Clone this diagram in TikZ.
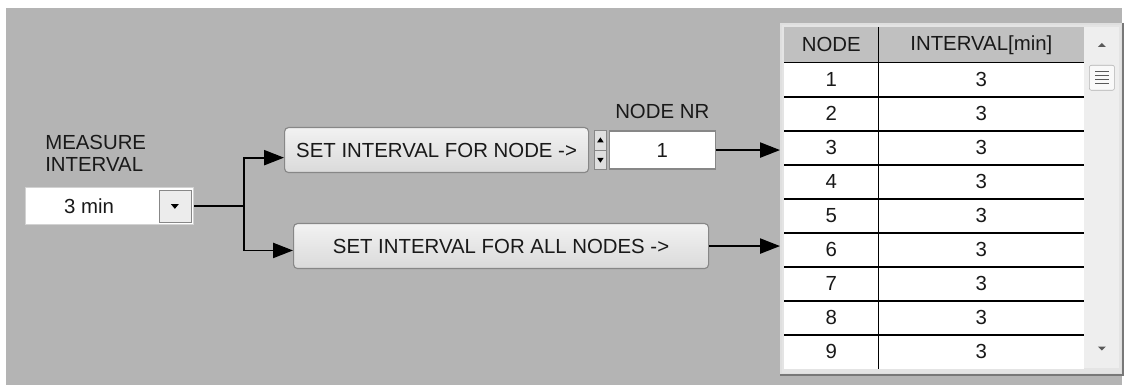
\documentclass[tikz,border=0pt]{standalone}
\usepackage{fontspec}
\setmainfont{Liberation Sans}
\usetikzlibrary{calc}
\usetikzlibrary{positioning}
\usetikzlibrary{arrows.meta}

\definecolor{panelgray}{RGB}{180,180,180}
\definecolor{btntop}{RGB}{242,242,242}
\definecolor{btnbottom}{RGB}{218,218,218}
\definecolor{btnedge}{RGB}{135,135,135}
\definecolor{headgray}{RGB}{192,192,192}
\definecolor{scrollgray}{RGB}{238,238,238}
\definecolor{framegray}{RGB}{228,228,228}
\definecolor{frameshade}{RGB}{120,120,120}
\definecolor{textdark}{RGB}{25,25,25}

\begin{document}
\begin{tikzpicture}[
		font=\fontsize{14.5}{16}\selectfont,
		every node/.append style={text=textdark},
		button/.style={
			draw=btnedge,
			line width=0.8pt,
			rounded corners=0.1cm,
			top color=btntop,
			bottom color=btnbottom,
			minimum height=1.125cm,
			inner sep=0pt},
		field/.style={
			draw=btnedge,
			line width=0.8pt,
			fill=white,
			inner sep=0pt},
		label/.style={
			inner sep=0pt},
		cell/.style={
			fill=white,
			minimum height=0.85cm,
			inner sep=0pt},
		head/.style={
			fill=headgray,
			minimum height=0.875cm,
			inner sep=0pt},
		gridline/.style={
			draw=black,
			line width=1pt},
		wire/.style={
			line width=1.2pt,
			-{Triangle[length=0.5cm,width=0.38cm]}},
		]

		%Panel
		\useasboundingbox (0,0) rectangle (28.325,-9.625);
		\fill[panelgray] (0.15,-0.2) rectangle (28.05,-9.625);

		%Measure interval
		\node (combo)[field, draw=gray!35, minimum width=4.2cm, minimum height=0.925cm, anchor=north west] at (0.625,-4.675) {};
		\node (combotxt) at ($(combo.west)+(1.6cm,0)$) {3 min};
		\node (combobtn)[draw=btnedge, fill=gray!15, minimum size=0.8cm, inner sep=0pt, left=0.075cm of combo.east] {};
		\fill[black] ($(combobtn.center)+(-0.1,0.05)$) -- ++(0.2,0) -- ++(-0.1,-0.12) -- cycle;
		\node (mlabel)[label, align=left, anchor=south west] at ($(combo.north west)+(0.5cm,0.375cm)$) {MEASURE\\INTERVAL};
		\coordinate (split) at ($(combo.east)+(1.25cm,0)$);

		%Buttons
		\node (setnode)[button, minimum width=7.6cm, anchor=north west] at (7.1,-3.175) {SET INTERVAL FOR NODE ->};
		\node (setall)[button, minimum width=10.375cm, anchor=north west] at (7.325,-5.575) {SET INTERVAL FOR ALL NODES ->};

		%Node number
		\node (spin)[draw=btnedge, fill=gray!25, minimum width=0.3cm, minimum height=0.975cm, inner sep=0pt, right=0.125cm of setnode] {};
		\draw[btnedge] (spin.west) -- (spin.east);
		\fill[black] ($(spin.north)+(-0.08,-0.3)$) -- ++(0.16,0) -- ++(-0.08,0.12) -- cycle;
		\fill[black] ($(spin.south)+(-0.08,0.3)$) -- ++(0.16,0) -- ++(-0.08,-0.12) -- cycle;
		\node (nodenr)[field, minimum width=2.65cm, minimum height=0.95cm, right=0.05cm of spin] {1};
		\node (nrlabel)[label, above=0.3cm of nodenr] {NODE NR};

		%Table
		\node (tbl)[draw=gray!25, fill=framegray, line width=1.2pt, minimum width=8.525cm, minimum height=8.75cm, anchor=north west] at (19.5,-0.575) {};
		\draw[frameshade, line width=1.5pt] (tbl.north east) -- (tbl.south east) -- (tbl.south west);
		\node (hnode)[head, minimum width=2.35cm, anchor=north west] at (19.6,-0.675) {NODE};
		\node (hint)[head, minimum width=5.125cm, right=0pt of hnode] {INTERVAL[min]};
		\foreach \i in {1,...,9}{
			\node (n\i)[cell, minimum width=2.35cm, anchor=north west] at ($(hnode.south west)+(0,{-0.85*(\i-1)})$) {\i};
			\node (v\i)[cell, minimum width=5.125cm, right=0pt of n\i] {3};
		}
		\draw[gridline] (hnode.south west) -- (hint.south east);
		\foreach \i in {1,...,8}{
			\draw[gridline] (n\i.south west) -- (v\i.south east);
		}
		\draw[gridline] (hnode.north east) -- (n9.south east);

		%Scrollbar
		\node (scroll)[fill=scrollgray, minimum width=0.875cm, minimum height=8.525cm, inner sep=0pt, anchor=north west] at (hint.north east) {};
		\fill[gray!70!black] ($(scroll.north)+(-0.1,-0.5)$) -- ++(0.2,0) -- ++(-0.1,0.1) -- cycle;
		\fill[gray!70!black] ($(scroll.south)+(-0.1,0.55)$) -- ++(0.2,0) -- ++(-0.1,-0.1) -- cycle;
		\node (thumb)[draw=gray!60, fill=gray!5, rounded corners=0.05cm, minimum width=0.625cm, minimum height=0.625cm, inner sep=0pt, below=0.95cm of scroll.north] {};
		\foreach \y in {-0.15,-0.05,0.05,0.15}{
			\draw[gray!70!black] ($(thumb.center)+(-0.17,\y)$) -- ++(0.34,0);
		}

		%Wires
		\draw[line width=1.2pt] (combo.east) -- (split);
		\draw[wire] (split) |- ([yshift=-0.19cm]setnode.west);
		\draw[wire] (split) |- ([yshift=-0.11cm]setall.west);
		\draw[wire] (nodenr.east) -- (nodenr.east -| tbl.west);
		\draw[wire] (setall.east) -- (setall.east -| tbl.west);

	\end{tikzpicture}
\end{document}
